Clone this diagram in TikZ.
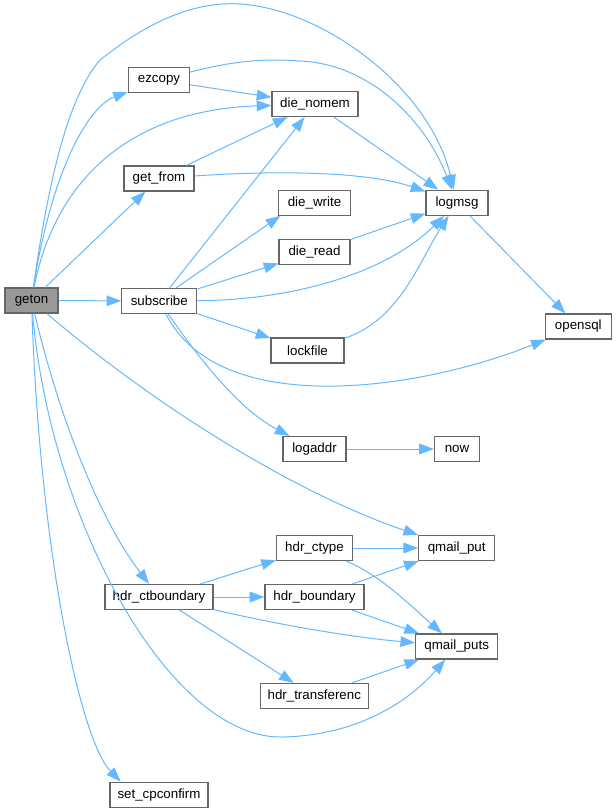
\documentclass[tikz,border=0pt]{standalone}
\usepackage{fontspec}
\setmainfont{Liberation Sans}
\usetikzlibrary{arrows.meta}
\definecolor{callblue}{HTML}{63B8FF}
\definecolor{boxgray}{HTML}{666666}
\definecolor{rootgray}{HTML}{999999}
\tikzset{fn/.style={draw=boxgray,fill=white,line width=0.9pt,rectangle,inner sep=0pt,minimum height=18.75pt,minimum width=#1*0.75pt,font=\fontsize{10}{12}\selectfont},
  call/.style={callblue,line width=0.75pt,-{Triangle[length=11pt,width=8pt]}}}
\begin{document}
\begin{tikzpicture}[x=0.75pt,y=-0.75pt]
        \useasboundingbox (0,0) rectangle (616,812);
        \node[fn=53,fill=rootgray] (geton) at (31.5,300.5) {geton};
        \node[fn=61] (ezcopy) at (159,80) {ezcopy};
        \node[fn=86] (dienomem) at (315,104) {die\_nomem};
        \node[fn=70] (getfrom) at (159,178.5) {get\_from};
        \node[fn=72] (diewrite) at (314.5,202.7) {die\_write};
        \node[fn=71] (dieread) at (314.5,252) {die\_read};
        \node[fn=75] (subscribe) at (159.3,301) {subscribe};
        \node[fn=62] (logmsg) at (457,202.7) {logmsg};
        \node[fn=66] (opensql) at (578.3,326.5) {opensql};
        \node[fn=73] (lockfile) at (307.5,350.5) {lockfile};
        \node[fn=63] (logaddr) at (314.5,449) {logaddr};
        \node[fn=45] (now) at (457,449) {now};
        \node[fn=76] (qmailput) at (456.7,548) {qmail\_put};
        \node[fn=76] (hdrctype) at (314.5,548) {hdr\_ctype};
        \node[fn=108] (hdrctboundary) at (159,597) {hdr\_ctboundary};
        \node[fn=99] (hdrboundary) at (314.5,597) {hdr\_boundary};
        \node[fn=82] (qmailputs) at (456.7,646.5) {qmail\_puts};
        \node[fn=108] (hdrtransferenc) at (314.3,696) {hdr\_transferenc};
        \node[fn=98] (setcpconfirm) at (159,794.7) {set\_cpconfirm};

        \draw[call] (geton) .. controls (50,170) and (70,95) .. (100,60) .. controls (150,20) and (200,-2) .. (250,5) .. controls (330,15) and (430,90) .. (logmsg);
        \draw[call] (geton) .. controls (50,180) and (85,108) .. (ezcopy);
        \draw[call] (geton) .. controls (55,180) and (130,110) .. (dienomem);
        \draw[call] (geton) -- (getfrom);
        \draw[call] (geton) -- (subscribe);
        \draw[call] (geton) .. controls (160,410) and (300,495) .. (qmailput);
        \draw[call] (geton) .. controls (60,420) and (100,520) .. (hdrctboundary);
        \draw[call] (geton) .. controls (50,520) and (170,740) .. (283,737) .. controls (360,735) and (410,700) .. (qmailputs);
        \draw[call] (geton) .. controls (40,550) and (80,740) .. ([xshift=8.5pt]setcpconfirm.north west);

        \draw[call] (ezcopy) .. controls (230,62) and (260,58) .. (300,61) .. controls (370,64) and (425,120) .. (logmsg);
        \draw[call] (ezcopy) -- (dienomem);
        \draw[call] (getfrom) -- (dienomem);
        \draw[call] (getfrom) .. controls (280,170) and (370,172) .. (logmsg);
        \draw[call] (dienomem) -- (logmsg);

        \draw[call] (subscribe) -- (dienomem);
        \draw[call] (subscribe.38) -- (diewrite.201);
        \draw[call] (subscribe) -- (dieread);
        \draw[call] (subscribe) .. controls (300,300) and (390,270) .. (logmsg);
        \draw[call] (subscribe) -- (lockfile);
        \draw[call] (subscribe) .. controls (220,420) and (420,390) .. (opensql);
        \draw[call] (subscribe) .. controls (200,360) and (240,410) .. (logaddr);
        \draw[call] (dieread) -- (logmsg);
        \draw[call] (lockfile) .. controls (400,320) and (420,260) .. (logmsg);
        \draw[call] (logmsg) -- (opensql);
        \draw[call] (logaddr) -- (now);

        \draw[call] (hdrctboundary) -- (hdrctype);
        \draw[call] (hdrctboundary) -- (hdrboundary);
        \draw[call] (hdrctboundary) .. controls (280,625) and (350,637) .. (qmailputs);
        \draw[call] (hdrctboundary) -- (hdrtransferenc);
        \draw[call] (hdrctype) -- (qmailput);
        \draw[call] (hdrctype) .. controls (380,575) and (410,605) .. (qmailputs);
        \draw[call] (hdrboundary) -- (qmailput);
        \draw[call] (hdrboundary) -- (qmailputs);
        \draw[call] (hdrtransferenc) -- (qmailputs);
\end{tikzpicture}
\end{document}
